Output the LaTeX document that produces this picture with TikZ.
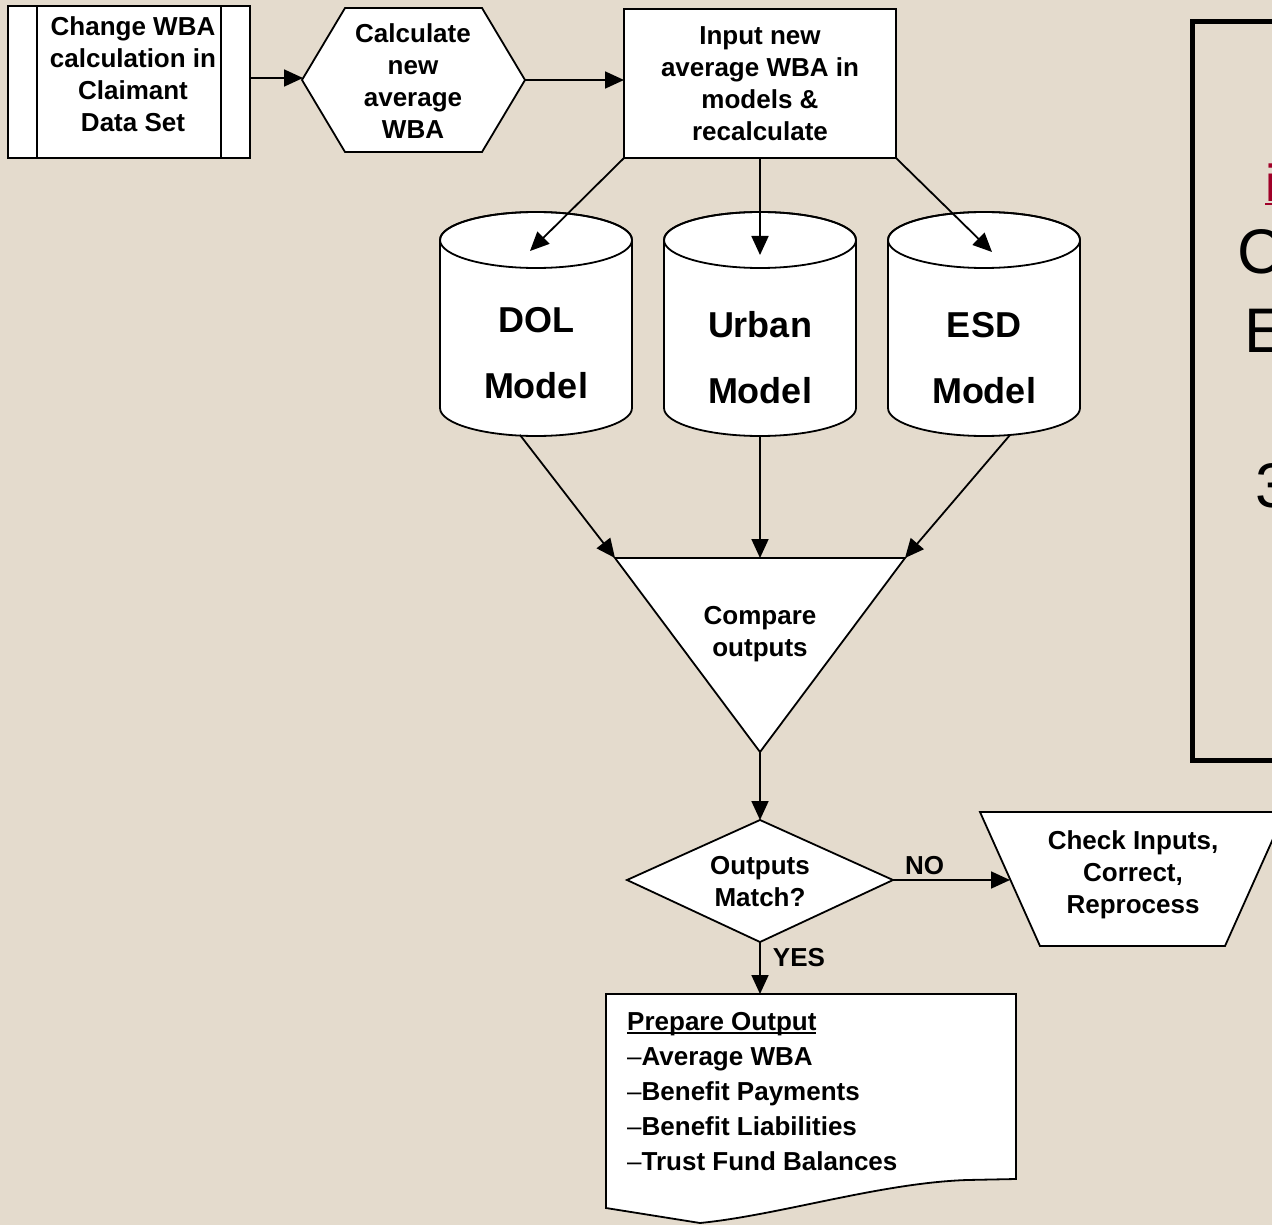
\documentclass[tikz,border=0pt]{standalone}
\usepackage{fontspec}
\setmainfont{Liberation Sans}
\usetikzlibrary{arrows.meta}
\definecolor{bgbeige}{RGB}{228,219,205}
\definecolor{titlered}{RGB}{160,0,40}
\newcommand\myul[1]{\setbox0\hbox{#1}\rlap{\rule[-3.5pt]{\wd0}{2pt}}\box0}
\begin{document}
\begin{tikzpicture}[x=1pt,y=-1pt,
  arr/.style={-{Triangle[length=19pt,width=17pt]}, line width=1.8pt},
  shp/.style={draw, fill=white, line width=1.8pt, line join=miter},
  txt/.style={font=\fontsize{26}{32}\selectfont\bfseries, align=center, inner sep=0pt},
  bigtxt/.style={font=\fontsize{36}{66}\selectfont\bfseries, align=center, inner sep=0pt},
  cuttxt/.style={font=\fontsize{63}{63}\selectfont, anchor=base west, inner sep=0pt}]
\useasboundingbox (0,0) rectangle (1272,1225);
\fill[bgbeige] (0,0) rectangle (1272,1225);

% --- Change WBA (predefined process)
\draw[shp] (8,6) rectangle (250,158);
\draw[line width=1.8pt] (37,6) -- (37,158) (221,6) -- (221,158);
\node[txt] (chg) at (133,74) {Change WBA\\calculation in\\Claimant\\Data Set};
\coordinate (chgE) at (250,78);

% --- Calculate new average WBA (hexagon)
\draw[shp] (302,80) -- (345,8) -- (482,8) -- (525,80) -- (482,152) -- (345,152) -- cycle;
\node[txt] (calc) at (413,81) {Calculate\\new\\average\\WBA};
\coordinate (calcW) at (303,78);
\coordinate (calcE) at (525,80);

% --- Input new average WBA (rectangle)
\draw[shp] (624,9) rectangle (896,158);
\node[txt] (inp) at (760,84) {Input new\\average WBA in\\models \&\\recalculate};
\coordinate (inpW) at (624,80);
\coordinate (inpSW) at (624,158);
\coordinate (inpS) at (760,158);
\coordinate (inpSE) at (896,158);

% --- Cylinders
\foreach \cx/\nm in {536/dolc,760/urbc,984/esdc}{
  \filldraw[shp] (\cx-96,240) -- (\cx-96,408)
     arc[start angle=180,end angle=360,x radius=96pt,y radius=28pt]
     -- (\cx+96,240)
     arc[start angle=0,end angle=180,x radius=96pt,y radius=28pt] -- cycle;
  \draw[line width=1.8pt] (\cx,240) ellipse [x radius=96pt,y radius=28pt];
}
\node[bigtxt] (dol) at (536,353) {DOL\\Model};
\node[bigtxt] (urb) at (760,358) {Urban\\Model};
\node[bigtxt] (esd) at (984,358) {ESD\\Model};
\coordinate (dolT) at (530,251);
\coordinate (urbT) at (760,255);
\coordinate (esdT) at (992,252);
\coordinate (dolB) at (520,435);
\coordinate (urbB) at (760,436);
\coordinate (esdB) at (1010,435);

% --- Compare outputs (merge triangle)
\draw[shp] (615,558) -- (905,558) -- (760,752) -- cycle;
\node[txt] (cmp) at (760,634) {Compare\\outputs};
\coordinate (cmpL) at (615,558);
\coordinate (cmpT) at (760,558);
\coordinate (cmpR) at (905,558);
\coordinate (cmpB) at (760,752);

% --- Decision
\draw[shp] (627,880) -- (760,820) -- (893,880) -- (760,942) -- cycle;
\node[txt] (dec) at (760,882) {Outputs\\Match?};
\coordinate (decT) at (760,820);
\coordinate (decR) at (893,880);
\coordinate (decB) at (760,942);

% --- Check inputs (manual operation)
\draw[shp] (980,812) -- (1285,812) -- (1225,946) -- (1040,946) -- cycle;
\node[txt] (chk) at (1133,875) {Check Inputs,\\Correct,\\Reprocess};
\coordinate (chkW) at (1010,880);

% --- Prepare output (document)
\draw[shp] (1016,1179) -- (967,1180) .. controls (880,1183) and (780,1215) .. (700,1223)
  -- (606,1208) -- (606,994) -- (1016,994) -- cycle;
\node[font=\fontsize{26}{35}\selectfont\bfseries, align=left, inner sep=0pt, anchor=west] (prep) at (627,1092)
  {\myul{Prepare Output}\\{\mdseries --}Average WBA\\{\mdseries --}Benefit Payments\\{\mdseries --}Benefit Liabilities\\{\mdseries --}Trust Fund Balances};
\coordinate (prepT) at (760,994);

% --- Connectors
\draw[arr] (chgE) -- (calcW);
\draw[arr] (calcE) -- (inpW);
\draw[arr] (inpSW) -- (dolT);
\draw[arr] (inpS) -- (urbT);
\draw[arr] (inpSE) -- (esdT);
\draw[arr] (dolB) -- (cmpL);
\draw[arr] (urbB) -- (cmpT);
\draw[arr] (esdB) -- (cmpR);
\draw[arr] (cmpB) -- (decT);
\draw[arr] (decR) -- (chkW) node[txt, pos=0.27, above=4pt] (no) {NO};
\draw[arr] (decB) -- (prepT) node[txt, pos=0.3, right=12pt] (yes) {YES};

% --- Right panel (cut off at the edge)
\begin{scope}
\clip (0,0) rectangle (1272,1225);
\draw[line width=5pt] (1192,22) rectangle (1320,760);
\node[font=\fontsize{52}{52}\selectfont, text=titlered, anchor=base west, inner sep=0pt] (ttl) at (1265,202) {\myul{i}};
\node[cuttxt] (c1) at (1237,273) {C};
\node[cuttxt] (e1) at (1244,352) {E};
\node[cuttxt] (n3) at (1255,507) {3};
\end{scope}
\end{tikzpicture}
\end{document}
